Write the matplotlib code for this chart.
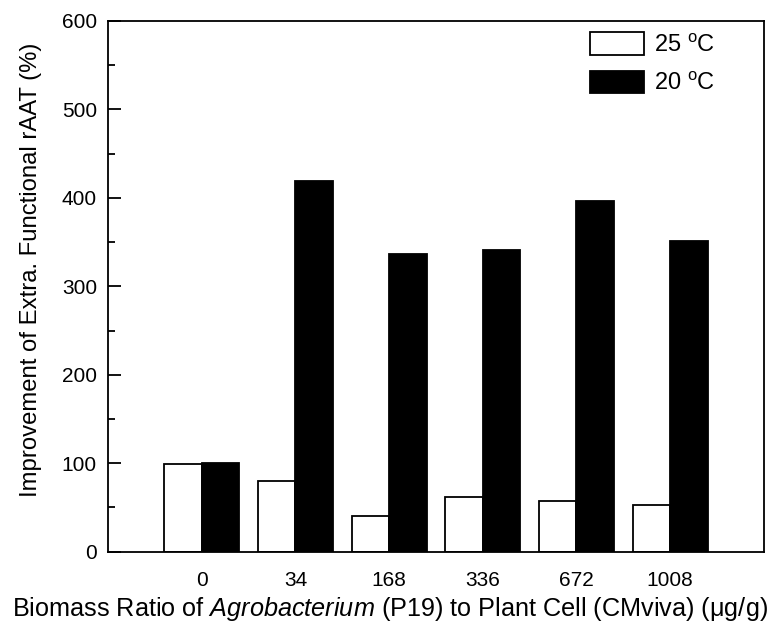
import matplotlib
matplotlib.use("Agg")
import matplotlib.pyplot as plt
import numpy as np
from matplotlib.ticker import MultipleLocator

plt.rcParams['font.family'] = ['Liberation Sans', 'DejaVu Sans']
plt.rcParams['mathtext.fontset'] = 'custom'
plt.rcParams['mathtext.rm'] = 'Liberation Sans'
plt.rcParams['mathtext.it'] = 'Liberation Sans:italic'

categories = ['0', '34', '168', '336', '672', '1008']
temp25 = [99, 80, 40, 62, 57, 53]
temp20 = [100, 419, 336, 341, 397, 351]
series_labels = ['25 $^{\\mathrm{o}}$C', '20 $^{\\mathrm{o}}$C']

fig = plt.figure(figsize=(7.81, 6.30), dpi=100)
ax = fig.add_axes([0.1383, 0.1243, 0.978 - 0.1383, 0.9667 - 0.1243])

x = np.arange(1, len(categories) + 1)
w = 0.4
ax.bar(x - w / 2, temp25, width=w, color='white', edgecolor='black', linewidth=1.3, label=series_labels[0])
ax.bar(x + w / 2, temp20, width=w, color='black', edgecolor='black', linewidth=1.3, label=series_labels[1])

ax.set_xlim(0, 7)
ax.set_ylim(0, 600)
ax.set_xticks(x)
ax.set_xticklabels(categories)
ax.yaxis.set_major_locator(MultipleLocator(100))
ax.yaxis.set_minor_locator(MultipleLocator(50))
ax.tick_params(axis='y', which='major', direction='in', length=9, width=1.3, labelsize=15, pad=8)
ax.tick_params(axis='y', which='minor', direction='in', length=5, width=1.3)
ax.tick_params(axis='x', which='both', length=0, labelsize=15, pad=14)
for s in ax.spines.values():
    s.set_linewidth(1.3)

ax.set_ylabel('Improvement of Extra. Functional rAAT (%)', fontsize=17.2)
ax.yaxis.set_label_coords(-0.10, 0.531)
ax.set_xlabel('Biomass Ratio of $\\it{Agrobacterium}$ (P19) to Plant Cell (CMviva) (\u03bcg/g)',
              fontsize=18.2)
ax.xaxis.set_label_coords(0.43, -0.082)

leg = ax.legend(loc='upper left', bbox_to_anchor=(0.71, 1.01), frameon=False, fontsize=17,
                handlelength=2.3, handleheight=1.1, handletextpad=0.4, labelspacing=0.6,
                borderaxespad=0.3)

fig.savefig('out.png', dpi=100)
